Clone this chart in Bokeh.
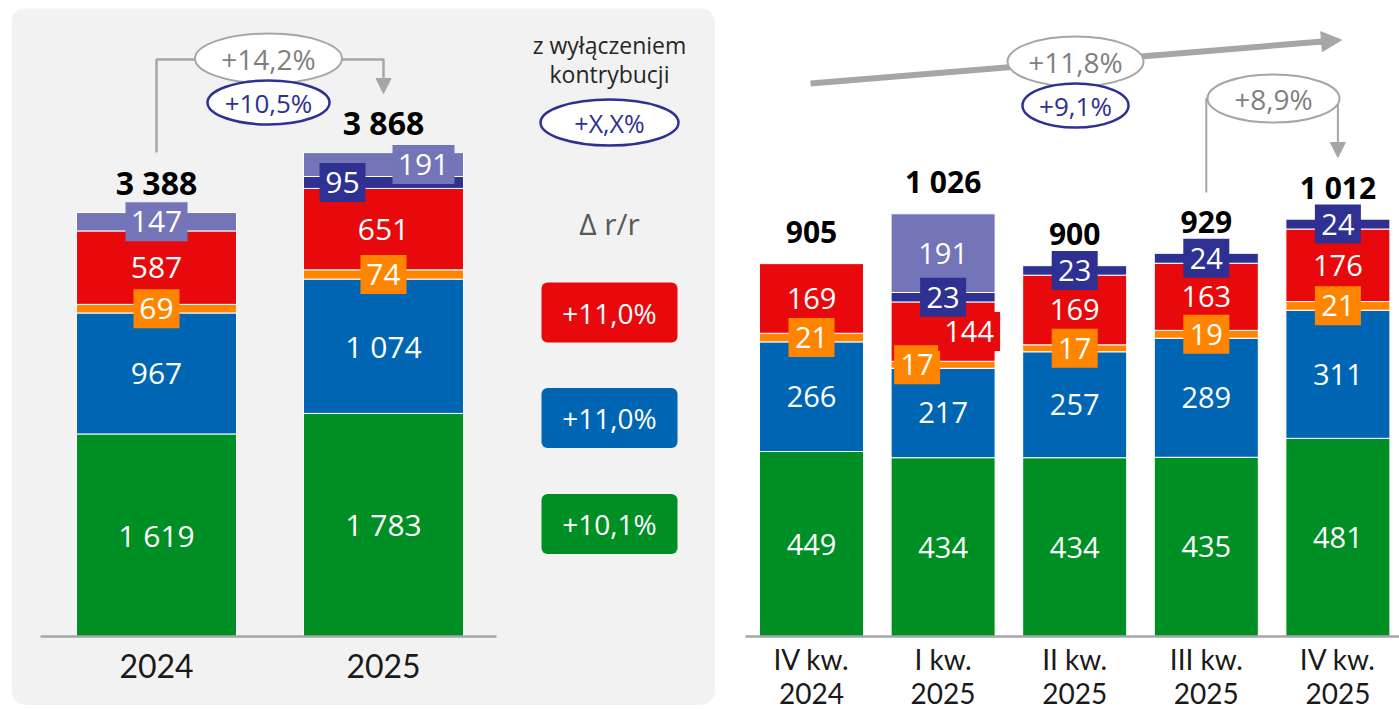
import numpy as np
from bokeh.plotting import figure
from bokeh.layouts import row, column
from bokeh.models import Range1d, Arrow, NormalHead, FixedTicker, Rect, Spacer
from bokeh.core.properties import value
from bokeh.embed import file_html
from bokeh.resources import INLINE

# ---------------- data ----------------
years = ["2024", "2025"]
y_green = [1619, 1783]
y_blue = [967, 1074]
y_orange = [69, 74]
y_red = [587, 651]
y_navy = [0, 95]
y_lav = [147, 191]
y_total = [3388, 3868]
y_growth = ["+14,2%", "+10,5%"]          # r/r total, excl. contribution

quarters = ["IV kw.\n2024", "I kw.\n2025", "II kw.\n2025", "III kw.\n2025", "IV kw.\n2025"]
q_green = [449, 434, 434, 435, 481]
q_blue = [266, 217, 257, 289, 311]
q_orange = [21, 17, 17, 19, 21]
q_red = [169, 144, 169, 163, 176]
q_navy = [0, 23, 23, 24, 24]
q_lav = [0, 191, 0, 0, 0]
q_total = [905, 1026, 900, 929, 1012]
q_trend = ["+11,8%", "+9,1%"]
q_qq = ["+8,9%"]

legend_title = ["z wyłączeniem", "kontrybucji"]
legend_sample = "+X,X%"
legend_delta = "Δ r/r"
legend_values = ["+11,0%", "+11,0%", "+10,1%"]   # red, blue, green

# ---------------- styles ----------------
GREEN, BLUE, ORANGE, RED, NAVY, LAV = "#008f24", "#0066b3", "#ff8500", "#e8090d", "#2e3192", "#7375b8"
GREY, PANEL, DARK = "#a6a6a6", "#f2f2f2", "#1a1a1a"
FONT, AXFONT = "Open Sans", "Lato"
RECT_RADIUS = "border_radius" in Rect.properties()
COLORS = [GREEN, BLUE, ORANGE, RED, NAVY, LAV]
TOP, FRAME_BOTTOM = 8, 640


def fmt(v):
    return f"{int(v):,}".replace(",", " ")


class Geo:
    """conversion of layout pixel positions to data units"""
    def __init__(self, x0, dx, base, sy):
        self.x0, self.dx, self.base, self.sy = x0, dx, base, sy

    def x(self, px):
        return (px - self.x0) / self.dx

    def y(self, py):
        return (self.base - py) / self.sy


L = Geo(156.0, 227.0, 636.0, 0.1251)
R = Geo(811.0, 131.6, 636.0, 0.412)


def base_fig(g, px0, px1, labels, bottom, fsize, standoff, lh=1.2):
    p = figure(frame_width=int(px1 - px0), frame_height=FRAME_BOTTOM - TOP,
               x_range=Range1d(g.x(px0), g.x(px1)),
               y_range=Range1d(g.y(FRAME_BOTTOM), g.y(TOP)),
               output_backend="svg", toolbar_location=None, y_axis_location=None,
               min_border_left=0, min_border_right=0, min_border_top=0,
               min_border_bottom=bottom)
    p.outline_line_color = None
    p.grid.visible = False
    ax = p.xaxis[0]
    ax.ticker = FixedTicker(ticks=list(range(len(labels))))
    ax.major_label_overrides = {i: s for i, s in enumerate(labels)}
    ax.axis_line_color = None
    ax.major_tick_line_color = None
    ax.minor_tick_line_color = None
    ax.major_label_standoff = standoff
    ax.major_label_text_font = AXFONT
    ax.major_label_text_font_size = f"{fsize}px"
    ax.major_label_text_color = DARK
    ax.major_label_text_line_height = lh
    return p


def draw_stack(p, g, n, series, width_px):
    xs = np.arange(n)
    bottom = np.zeros(n)
    layers = []
    for vals, col in zip(series, COLORS):
        v = np.asarray(vals, float)
        m = v > 0
        p.vbar(x=xs[m], bottom=bottom[m], top=(bottom + v)[m], width=width_px / g.dx,
               fill_color=col, line_color="white", line_width=1)
        layers.append((v, bottom.copy(), col))
        bottom = bottom + v
    return layers


def draw_labels(p, g, layers, boxed, dxs, size):
    bx, by, bw, bc, tx, ty, tt = [], [], [], [], [], [], []
    for (v, b, col), box, dx in zip(layers, boxed, dxs):
        for i in range(len(v)):
            if v[i] <= 0:
                continue
            x = i + dx[i] / g.dx
            y = b[i] + v[i] / 2
            s = fmt(v[i])
            if box[i]:
                bx.append(x); by.append(y); bw.append(14 + 16 * len(s)); bc.append(col)
            tx.append(x); ty.append(y); tt.append(s)
    p.rect(x=bx, y=by, width=bw, height=39, width_units="screen", height_units="screen",
           fill_color=bc, line_color=None)
    p.text(x=tx, y=ty, text=tt, text_align="center", text_baseline="middle",
           text_color="white", text_font=value(FONT), text_font_size=f"{size}px")


def draw_totals(p, g, totals, size, gap_px):
    n = len(totals)
    p.text(x=list(range(n)), y=[t + gap_px / g.sy for t in totals], text=[fmt(t) for t in totals],
           text_align="center", text_baseline="middle", text_color="black",
           text_font=value(FONT), text_font_style="bold", text_font_size=f"{size}px")


def oval(p, x, y, w, h, col, lw, txt, tcol, size):
    p.ellipse(x=[x], y=[y], width=[w], height=[h], width_units="screen", height_units="screen",
              fill_color="white", line_color=col, line_width=lw)
    p.text(x=[x], y=[y], text=[txt], text_align="center", text_baseline="middle",
           text_color=tcol, text_font=value(FONT), text_font_size=f"{size}px")


def arrow_down(p, x, y0, y1, lw=2.5, size=15):
    p.add_layout(Arrow(x_start=x, y_start=y0, x_end=x, y_end=y1, line_color=GREY, line_width=lw,
                       end=NormalHead(size=size, fill_color=GREY, line_color=GREY, line_width=1)))


# ================= left panel =================
pl = base_fig(L, 11, 715, years, 705 - FRAME_BOTTOM, 32, 7)
pl.background_fill_color = PANEL
pl.border_fill_color = PANEL
pl.styles = {"border-radius": "15px", "overflow": "hidden"}

layers = draw_stack(pl, L, 2, [y_green, y_blue, y_orange, y_red, y_navy, y_lav], 160)
pl.line(x=[L.x(40), L.x(496)], y=[0, 0], line_color=GREY, line_width=2.5)

F2, T2 = [False, False], [True, True]
draw_labels(pl, L, layers,
            [F2, F2, T2, F2, T2, T2],
            [[0, 0], [0, 0], [0, 0], [0, 0], [0, -41], [0, 40]], 30)
draw_totals(pl, L, y_total, 32, 30)

# bracket 2024 -> 2025
pl.line(x=[0, 0, 1, 1], y=[L.y(152), L.y(59), L.y(59), L.y(80)], line_color=GREY, line_width=2.5)
arrow_down(pl, 1, L.y(80), L.y(93))
oval(pl, L.x(268), L.y(58), 147, 50, GREY, 2, y_growth[0], "#7f7f7f", 28)
oval(pl, L.x(268), L.y(102), 122, 44, NAVY, 2.5, y_growth[1], NAVY, 26)

# legend
lx_c = L.x(609)
pl.text(x=[lx_c, lx_c], y=[L.y(44), L.y(73)], text=legend_title, text_align="center",
        text_baseline="middle", text_color="#262626", text_font=value(FONT), text_font_size="23px")
oval(pl, lx_c, L.y(122), 138, 46, NAVY, 2.5, legend_sample, NAVY, 25)
pl.text(x=[lx_c], y=[L.y(223)], text=[legend_delta], text_align="center", text_baseline="middle",
        text_color="#595959", text_font=value(FONT), text_font_size="30px")
box_y = [L.y(312), L.y(417.5), L.y(523.5)]
rr = pl.rect(x=[lx_c] * 3, y=box_y, width=136, height=60, width_units="screen", height_units="screen",
             fill_color=[RED, BLUE, GREEN], line_color=None)
if RECT_RADIUS:
    rr.glyph.border_radius = 6
pl.text(x=[lx_c] * 3, y=box_y, text=legend_values, text_align="center", text_baseline="middle",
        text_color="white", text_font=value(FONT), text_font_size="28px")

# ================= right panel =================
pr = base_fig(R, 715, 1399, quarters, 710 - FRAME_BOTTOM, 28, -5, 1.02)
pr.background_fill_color = "white"
pr.border_fill_color = "white"

layers_q = draw_stack(pr, R, 5, [q_green, q_blue, q_orange, q_red, q_navy, q_lav], 104)
pr.line(x=[R.x(745), R.x(1399)], y=[0, 0], line_color=GREY, line_width=2.5)
F5, T5 = [False] * 5, [True] * 5
Z5 = [0] * 5
draw_labels(pr, R, layers_q,
            [F5, F5, T5, [False, True, False, False, False], T5, F5],
            [Z5, Z5, [0, -26, 0, 0, 0], [0, 26, 0, 0, 0], Z5, Z5], 29)
draw_totals(pr, R, q_total, 30, 32)

# trend arrow IV kw. 2024 -> IV kw. 2025
ax0, ay0, ax1, ay1 = 810, 83.0, 1341, 39.5
def ty_at(px):
    return ay0 + (ay1 - ay0) * (px - ax0) / (ax1 - ax0)
pr.line(x=[R.x(ax0), R.x(1322)], y=[R.y(ay0), R.y(ty_at(1322))], line_color=GREY, line_width=6)
pr.add_layout(Arrow(x_start=R.x(1318), y_start=R.y(ty_at(1318)), x_end=R.x(ax1), y_end=R.y(ay1),
                    line_color=GREY, line_width=6,
                    end=NormalHead(size=20, fill_color=GREY, line_color=GREY, line_width=1)))
oval(pr, R.x(1075), R.y(61), 136, 50, GREY, 2, q_trend[0], "#7f7f7f", 28)
oval(pr, R.x(1075), R.y(105), 106, 44, NAVY, 2.5, q_trend[1], NAVY, 26)

# bracket III kw. -> IV kw.
pr.line(x=[3, 3, 4, 4], y=[R.y(192), R.y(98), R.y(98), R.y(142)], line_color=GREY, line_width=2)
arrow_down(pr, 4, R.y(142), R.y(157), lw=2)
oval(pr, R.x(1273), R.y(98), 132, 48, GREY, 2, q_qq[0], "#7f7f7f", 28)

layout = column(Spacer(width=1399, height=TOP),
                row(Spacer(width=11, height=10), pl, pr))
open("out.html", "w").write(file_html(layout, INLINE))
